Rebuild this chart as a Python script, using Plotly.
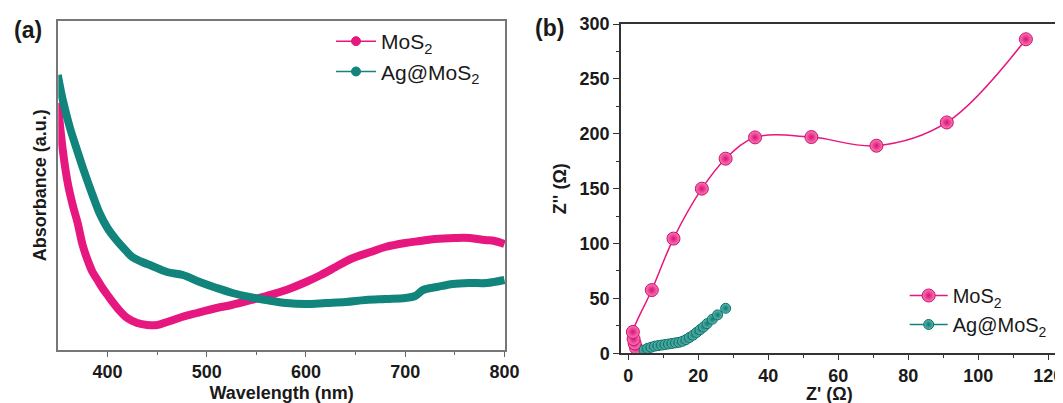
import plotly.graph_objects as go

# ---------------- Panel (a): UV-vis absorbance ----------------
wl_mos2 = [350, 355, 360, 365, 370, 375, 380, 385, 390, 395, 400, 410, 420, 430, 440,
           450, 460, 475, 490, 510, 525, 545, 560, 580, 600, 615, 630, 645, 665, 680,
           700, 715, 730, 750, 765, 780, 790, 800]
abs_mos2 = [2.47, 2.00, 1.67, 1.45, 1.27, 1.05, 0.90, 0.78, 0.70, 0.62, 0.55, 0.42, 0.32,
            0.27, 0.25, 0.25, 0.28, 0.33, 0.37, 0.42, 0.45, 0.50, 0.54, 0.60, 0.68, 0.75,
            0.83, 0.91, 0.98, 1.03, 1.07, 1.09, 1.11, 1.12, 1.12, 1.10, 1.09, 1.06]

wl_ag = [350, 355, 362, 370, 376, 385, 392, 400, 409, 418, 425, 435, 445, 460, 476, 493,
         510, 526, 543, 560, 580, 600, 620, 640, 660, 680, 700, 710, 718, 732, 748, 765,
         782, 800]
abs_ag = [2.75, 2.50, 2.23, 1.98, 1.80, 1.55, 1.37, 1.22, 1.10, 1.00, 0.93, 0.88, 0.84,
          0.78, 0.75, 0.68, 0.62, 0.57, 0.53, 0.50, 0.47, 0.46, 0.47, 0.48, 0.50, 0.51,
          0.52, 0.54, 0.60, 0.63, 0.66, 0.67, 0.67, 0.70]

wl_ticks = [400, 500, 600, 700, 800]

# ---------------- Panel (b): Nyquist plot ----------------
zre_mos2 = [3.5, 2.8, 2.2, 1.8, 1.5, 1.3, 6.7, 12.9, 21.0, 27.8, 36.2, 52.3, 70.9, 91.0, 113.6]
zim_mos2 = [0.5, 2.0, 5.0, 9.0, 13.0, 19.5, 57.6, 104.5, 150.0, 177.3, 196.7, 197.0, 189.1, 210.3, 286.1]

zre_ag = [4.5, 5.5, 6.5, 7.5, 8.5, 9.5, 10.5, 11.5, 12.5, 13.5, 14.5, 15.5, 16.5, 17.5,
          18.5, 19.5, 20.5, 21.5, 22.5, 24.0, 25.5, 27.8]
zim_ag = [3.0, 4.5, 5.5, 6.5, 7.0, 7.5, 8.0, 8.5, 9.0, 9.5, 10.0, 11.0, 12.5, 14.5,
          16.5, 19.0, 21.5, 24.0, 27.0, 31.0, 35.0, 41.0]

labels = ["MoS<sub>2</sub>", "Ag@MoS<sub>2</sub>"]
PINK = "#E6177E"
TEAL = "#11847C"
FONT = "Liberation Sans, Arial, sans-serif"

fig = go.Figure()

# panel (a) curves (dense spectra drawn as thick bands)
fig.add_trace(go.Scatter(x=wl_mos2, y=abs_mos2, mode="lines", xaxis="x", yaxis="y",
                         line=dict(color=PINK, width=8, shape="spline"), showlegend=False,
                         hoverinfo="skip"))
fig.add_trace(go.Scatter(x=wl_ag, y=abs_ag, mode="lines", xaxis="x", yaxis="y",
                         line=dict(color=TEAL, width=8, shape="spline"), showlegend=False,
                         hoverinfo="skip"))
# panel (a) legend entries
for i, (name, col) in enumerate(zip(labels, [PINK, TEAL])):
    fig.add_trace(go.Scatter(x=[None], y=[None], mode="lines+markers", xaxis="x", yaxis="y",
                             name=name, legend="legend", legendgroup="a%d" % i,
                             line=dict(color=col, width=1.5),
                             marker=dict(color=col, size=9, line=dict(color=col, width=1))))

# panel (b)
fig.add_trace(go.Scatter(x=zre_mos2, y=zim_mos2, mode="lines+markers", xaxis="x2", yaxis="y2",
                         name=labels[0], legend="legend2", legendgroup="b0",
                         line=dict(color=PINK, width=1.5, shape="spline", smoothing=1.0),
                         marker=dict(color="#F77DB8", size=13,
                                     gradient=dict(type="radial", color="#DC0F72"),
                                     line=dict(color="#D00E6C", width=1))))
fig.add_trace(go.Scatter(x=zre_ag, y=zim_ag, mode="lines+markers", xaxis="x2", yaxis="y2",
                         name=labels[1], legend="legend2", legendgroup="b1",
                         line=dict(color=TEAL, width=1.5),
                         marker=dict(color="#5FB8B0", size=10,
                                     gradient=dict(type="radial", color="#0B7870"),
                                     line=dict(color="#0B7068", width=1))))

# the page body adds an 8 px margin, so the figure is 8 px smaller on each axis
W, H = 1055, 395
axis_font = dict(family=FONT, size=18, color="#1a1a1a", weight="bold")

fig.update_layout(
    width=W, height=H,
    margin=dict(l=0, r=0, t=0, b=0, autoexpand=False),
    paper_bgcolor="white", plot_bgcolor="white",
    font=dict(family=FONT, color="#1a1a1a"),
    xaxis=dict(domain=[50.3 / W, 497 / W], range=[350.5, 800.5], anchor="y", automargin=False,
               tickvals=wl_ticks, ticks="outside", ticklen=5, tickwidth=1.2, tickcolor="#666",
               minor=dict(tickvals=[450, 550, 650, 750], ticks="outside", ticklen=3,
                          tickcolor="#666"),
               showline=True, linecolor="#777", linewidth=1.5, mirror=True,
               showgrid=False, zeroline=False, tickfont=axis_font,
               title=dict(text="Wavelength (nm)", font=axis_font, standoff=8)),
    yaxis=dict(domain=[1 - 342 / H, 1 - 12.7 / H], range=[0, 3.293], anchor="x", automargin=False,
               showticklabels=False, ticks="", showline=True, linecolor="#777",
               linewidth=1.5, mirror=True, showgrid=False, zeroline=False,
               title=dict(text="Absorbance (a.u.)", font=axis_font, standoff=5)),
    xaxis2=dict(domain=[613 / W, 1.0], range=[-2.1, 124.2], anchor="y2", automargin=False,
                tick0=0, dtick=20, ticks="outside", ticklen=5, tickwidth=1.2, tickcolor="#333",
                minor=dict(dtick=10, tick0=0, ticks="outside", ticklen=3, tickcolor="#333"),
                showline=True, linecolor="#333", linewidth=1.5, mirror=True,
                showgrid=False, zeroline=False, tickfont=axis_font,
                ticklabeloverflow="allow"),
    yaxis2=dict(domain=[1 - 345.3 / H, 1 - 16 / H], range=[0, 300], anchor="x2", automargin=False,
                tick0=0, dtick=50, ticks="outside", ticklen=6, tickwidth=1.2, tickcolor="#333",
                minor=dict(dtick=25, tick0=0, ticks="outside", ticklen=3, tickcolor="#333"),
                showline=True, linecolor="#333", linewidth=1.5, mirror=False,
                showgrid=False, zeroline=False, tickfont=axis_font,
                title=dict(text="Z'' (Ω)", font=axis_font, standoff=8)),
    legend=dict(x=323 / W, y=1 - 13 / H, xanchor="left", yanchor="top",
                bgcolor="rgba(0,0,0,0)", itemwidth=40, tracegroupgap=0,
                font=dict(family=FONT, size=21, color="#1a1a1a")),
    legend2=dict(x=896.7 / W, y=1 - 268 / H, xanchor="left", yanchor="top",
                 bgcolor="rgba(0,0,0,0)", itemwidth=38, tracegroupgap=0,
                 font=dict(family=FONT, size=20, color="#1a1a1a")),
    annotations=[
        dict(text="(a)", x=19.5 / W, y=1 - 22 / H, xref="paper", yref="paper",
             showarrow=False, xanchor="center", yanchor="middle",
             font=dict(family=FONT, size=23, color="#1a1a1a", weight="bold")),
        dict(text="(b)", x=541 / W, y=1 - 20 / H, xref="paper", yref="paper",
             showarrow=False, xanchor="center", yanchor="middle",
             font=dict(family=FONT, size=23, color="#1a1a1a", weight="bold")),
        dict(text="Z' (Ω)", x=57.6, xref="x2", y=1 - 386 / H, yref="paper",
             showarrow=False, xanchor="center", yanchor="middle", font=axis_font),
    ],
)

fig.write_html("out.html")
